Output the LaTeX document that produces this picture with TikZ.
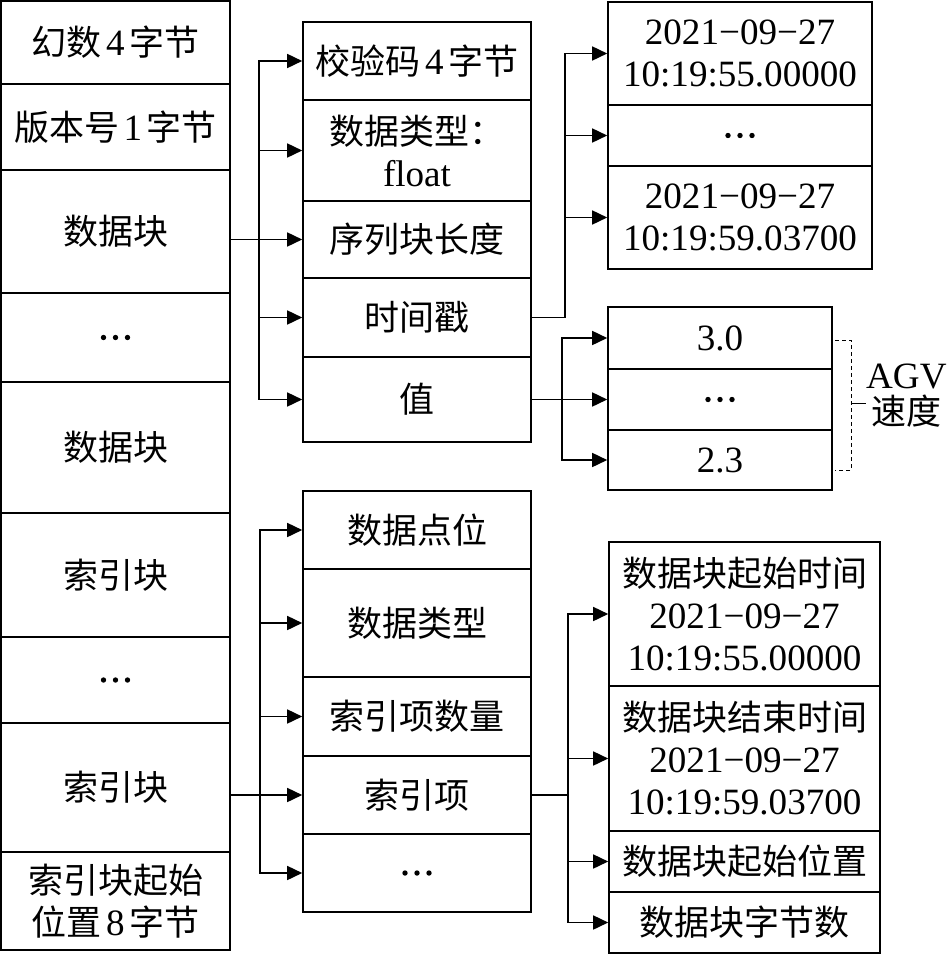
\documentclass[tikz,border=0pt]{standalone}
\usepackage{fontspec}
\setmainfont{Liberation Serif}[Scale=1.06]
\newfontfamily\cjk{Noto Sans CJK SC}
\usetikzlibrary{arrows.meta}
\newcommand\zh[1]{{\cjk #1}}
\newcommand\gp{\hspace{0.12em}}
\tikzset{
  cell/.style={draw, line width=1.6pt, inner sep=0pt, align=center, font=\fontsize{35}{42}\selectfont},
  arr/.style={line width=1.6pt, -{Triangle[length=15pt,width=14pt]}},
  ln/.style={line width=1.6pt, line cap=rect},
  brk/.style={line width=1pt, dashed, dash pattern=on 4pt off 3pt},
  lbl/.style={inner sep=0pt, align=center, font=\fontsize{35}{36}\selectfont},
  dot/.style={fill=black},
}
\newcommand\cell[6]{\node[cell, minimum width={#4-#2}, minimum height={#5-#3}] (#1) at ({(#2+#4)/2},{(#3+#5)/2}) {#6};}
\newcommand\ddd[1]{\foreach \d in {-12,0,12} \fill[dot] ([xshift=\d pt]#1.center) circle (2.7pt);}
\begin{document}
\begin{tikzpicture}[x=1pt,y=-1pt]
\useasboundingbox (0,0) rectangle (949,955);
% left column
\cell{L1}{1}{1}{230}{84}{\zh{幻数}\gp 4\gp\zh{字节}}
\cell{L2}{1}{84}{230}{170}{\zh{版本号}\gp 1\gp\zh{字节}}
\cell{L3}{1}{170}{230}{293}{\zh{数据块}}
\cell{L4}{1}{293}{230}{382}{}
\cell{L5}{1}{382}{230}{513}{\zh{数据块}}
\cell{L6}{1}{513}{230}{637}{\zh{索引块}}
\cell{L7}{1}{637}{230}{723}{}
\cell{L8}{1}{723}{230}{852}{\zh{索引块}}
\cell{L9}{1}{852}{230}{950}{\fontsize{35}{36}\selectfont\zh{索引块起始}\\\zh{位置}\gp 8\gp\zh{字节}}
% middle top
\cell{M1}{303}{22}{531}{100}{\zh{校验码}\gp 4\gp\zh{字节}}
\cell{M2}{303}{100}{531}{201}{\fontsize{35}{37}\selectfont\zh{数据类型：}\\float}
\cell{M3}{303}{201}{531}{278}{\zh{序列块长度}}
\cell{M4}{303}{278}{531}{357}{\zh{时间戳}}
\cell{M5}{303}{357}{531}{442}{\zh{值}}
% right top
\cell{R1}{608}{2}{872}{105}{2021−09−27\\10:19:55.00000}
\cell{R2}{608}{105}{872}{166}{}
\cell{R3}{608}{166}{872}{269}{2021−09−27\\10:19:59.03700}
% values
\cell{V1}{608}{307}{832}{369}{3.0}
\cell{V2}{608}{369}{832}{430}{}
\cell{V3}{608}{430}{832}{490}{2.3}
% middle bottom
\cell{N1}{303}{491}{531}{569}{\zh{数据点位}}
\cell{N2}{303}{569}{531}{677}{\zh{数据类型}}
\cell{N3}{303}{677}{531}{756}{\zh{索引项数量}}
\cell{N4}{303}{756}{531}{834}{\zh{索引项}}
\cell{N5}{303}{834}{531}{912}{}
% right bottom
\cell{S1}{609}{542}{880}{686}{\zh{数据块起始时间}\\2021−09−27\\10:19:55.00000}
\cell{S2}{609}{686}{880}{831}{\zh{数据块结束时间}\\2021−09−27\\10:19:59.03700}
\cell{S3}{609}{831}{880}{892}{\zh{数据块起始位置}}
\cell{S4}{609}{892}{880}{953}{\zh{数据块字节数}}
% ellipsis dots
\ddd{L4}\ddd{L7}\ddd{R2}\ddd{V2}\ddd{N5}
% trunk coordinates
\coordinate (tA) at (259,0);
\coordinate (tB) at (565,0);
\coordinate (tC) at (562,0);
\coordinate (tD) at (260,0);
\coordinate (tE) at (568,0);
% left -> middle top
\draw[arr] (L3.east |- M3.west) -- (M3.west);
\draw[ln] (tA |- M1.west) -- (tA |- M5.west);
\foreach \n in {M1,M2,M4,M5} \draw[arr] (tA |- \n.west) -- (\n.west);
% timestamp -> right top
\draw[ln] (M4.east) -- (tB |- M4.east) -- (tB |- R1.west);
\foreach \n in {R1,R2,R3} \draw[arr] (tB |- \n.west) -- (\n.west);
% value -> values
\draw[arr] (M5.east |- V2.west) -- (V2.west);
\draw[ln] (tC |- V1.west) -- (tC |- V3.west);
\foreach \n in {V1,V3} \draw[arr] (tC |- \n.west) -- (\n.west);
% bracket
\coordinate (b1) at (835,340);
\coordinate (b2) at (851,340);
\coordinate (b3) at (851,470);
\coordinate (b4) at (835,470);
\coordinate (bt) at (851,403);
\draw[brk] (b1) -- (b2) -- (b3) -- (b4);
\node[lbl, anchor=west] (agv) at (866,396) {AGV\\\zh{速度}};
\draw[line width=1pt] (bt) -- (agv.west |- bt);
% left -> middle bottom
\draw[arr] (L8.east |- N4.west) -- (N4.west);
\draw[ln] (tD |- N1.west) -- (tD |- N5.west);
\foreach \n in {N1,N2,N3,N5} \draw[arr] (tD |- \n.west) -- (\n.west);
% index item -> right bottom
\draw[ln] (N4.east) -- (tE |- N4.east);
\draw[ln] (tE |- S1.west) -- (tE |- S4.west);
\foreach \n in {S1,S2,S3,S4} \draw[arr] (tE |- \n.west) -- (\n.west);
\end{tikzpicture}
\end{document}
